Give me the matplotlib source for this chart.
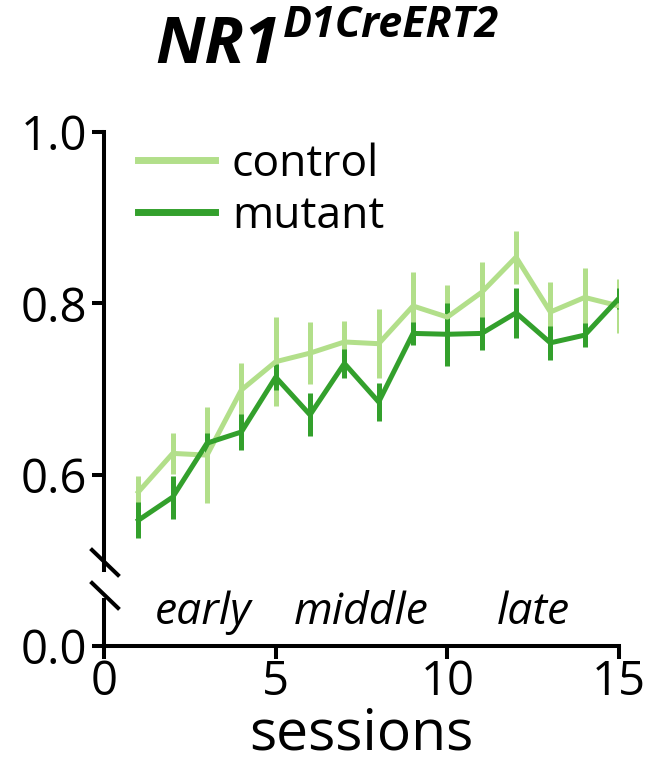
import matplotlib
matplotlib.use("Agg")
import matplotlib.pyplot as plt
from matplotlib.lines import Line2D

plt.rcParams['font.family'] = ['Open Sans', 'DejaVu Sans']

sessions = list(range(1, 16))
control = [0.580, 0.625, 0.623, 0.699, 0.732, 0.742, 0.755, 0.753, 0.797, 0.784, 0.813, 0.854, 0.790, 0.807, 0.797]
control_err = [0.019, 0.024, 0.056, 0.031, 0.052, 0.036, 0.025, 0.040, 0.040, 0.037, 0.035, 0.031, 0.035, 0.034, 0.031]
mutant = [0.547, 0.574, 0.637, 0.650, 0.714, 0.670, 0.730, 0.685, 0.765, 0.764, 0.765, 0.789, 0.754, 0.763, 0.806]
mutant_err = [0.021, 0.025, 0.012, 0.021, 0.015, 0.025, 0.017, 0.022, 0.013, 0.037, 0.019, 0.029, 0.020, 0.014, 0.012]
phases = ['early', 'middle', 'late']
phase_x = [2.9, 7.5, 12.5]

c_control = '#b2df8a'
c_mutant = '#33a02c'

fig = plt.figure(figsize=(6.69, 7.63), dpi=100)
ax = fig.add_axes([0.1555, 0.2530, 0.7698, 0.574])
ax2 = fig.add_axes([0.1555, 0.1533, 0.7698, 0.0603])

ax.errorbar(sessions, control, yerr=control_err, color=c_control, lw=3.6, elinewidth=3.6, capsize=0, label='control')
ax.errorbar(sessions, mutant, yerr=mutant_err, color=c_mutant, lw=3.6, elinewidth=3.6, capsize=0, label='mutant')

ax.set_xlim(0, 15)
ax.set_ylim(0.489, 1.0)
ax.set_yticks([0.6, 0.8, 1.0])
ax.set_yticklabels(['0.6', '0.8', '1.0'])
ax.tick_params(axis='y', labelsize=34, width=2.9, length=9, direction='out', pad=3)
ax.tick_params(axis='x', bottom=False, labelbottom=False)
for s in ['top', 'right', 'bottom']:
    ax.spines[s].set_visible(False)
ax.spines['left'].set_linewidth(2.9)
ax.spines['left'].set_bounds(0.489, 1.0)
ax.patch.set_alpha(0)

leg = ax.legend(handles=[Line2D([], [], color=c_control, lw=5), Line2D([], [], color=c_mutant, lw=5)],
                labels=['control', 'mutant'], frameon=False, fontsize=32,
                loc='upper left', bbox_to_anchor=(0.066, 0.977), handlelength=1.73,
                handletextpad=0.38, labelspacing=0.17, borderaxespad=0, borderpad=0)

ax2.set_xlim(0, 15)
ax2.set_ylim(0, 0.1)
ax2.set_yticks([0.0])
ax2.set_yticklabels(['0.0'])
ax2.set_xticks([0, 5, 10, 15])
ax2.tick_params(axis='both', labelsize=34, width=2.9, length=9, direction='out', pad=3)
ax2.tick_params(axis='x', pad=0)
for s in ['top', 'right']:
    ax2.spines[s].set_visible(False)
ax2.spines['left'].set_linewidth(2.9)
ax2.spines['bottom'].set_linewidth(2.9)
ax2.patch.set_alpha(0)
ax2.set_xlabel('sessions', fontsize=41, labelpad=0)

for px, name in zip(phase_x, phases):
    ax2.text(px, 0.47, name, style='italic', fontsize=32, ha='center', va='baseline',
             transform=ax2.get_xaxis_transform())

# break marks
for y0 in [550, 583]:
    fig.add_artist(Line2D([92 / 669, 118 / 669], [1 - y0 / 763, 1 - (y0 + 25) / 763],
                          color='black', lw=2.9, transform=fig.transFigure))

fig.text(155 / 669, 1 - 63 / 763, 'NR1', fontsize=47, fontweight='bold', style='italic', ha='left', va='baseline')
fig.text(283 / 669, 1 - 37 / 763, 'D1CreERT2', fontsize=31, fontweight='bold', style='italic', ha='left', va='baseline')

fig.savefig('out.png', dpi=100)
